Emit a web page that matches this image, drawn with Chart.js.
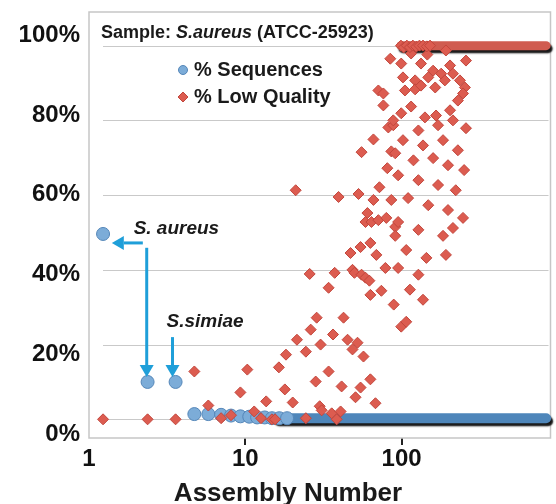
<!DOCTYPE html>
<html><head><meta charset="utf-8">
<script src="https://cdn.jsdelivr.net/npm/chart.js@4.4.1/dist/chart.umd.min.js"></script>
<style>html,body{margin:0;padding:0;background:#fff;}#wrap{width:556px;height:504px;}</style>
</head><body><div id="wrap"><canvas id="c" width="556" height="504"></canvas></div>
<script>
// ---- data ----
const seqX = [1.23, 2.37, 3.58, 4.72, 5.8, 7.0, 8.1, 9.3, 10.6, 11.9, 13.3, 14.8, 16.5, 18.5];
const seqY = [49.6, 10.0, 10.0, 1.4, 1.4, 1.2, 1.0, 0.8, 0.7, 0.5, 0.5, 0.3, 0.3, 0.3];
const lowX = [1.23, 2.37, 3.58, 4.72, 5.8, 7.0, 8.1, 9.3, 10.3, 11.4, 12.6, 13.6, 14.8, 15.5, 17.9, 20.1, 24.4, 29.9, 30.8, 35.7, 38.4, 40.7, 50.7, 68.0,
  16.4, 18.2, 21.4, 24.4, 26.2, 30.3, 36.4, 45.1, 48.5, 52.2, 57.0, 34.1, 28.2, 41.3, 54.6, 63.1,
  21.0, 39.5, 53.0, 66.0, 55.4, 82.2, 88.4, 85.9, 91.0, 81.0, 72.1, 66.0, 85.9, 60.4, 58.7, 64.1, 71.0, 79.8, 91.0, 91.0, 63.1, 54.6, 47.1, 68.9, 78.7, 25.8, 37.3, 48.5, 49.9, 55.4, 58.7, 62.2, 34.1, 74.2, 63.1, 28.6, 42.5,
  84.6, 99.4, 115, 133, 146, 192, 258, 204, 159, 179, 148, 122, 102, 71.0, 76.4, 76.4, 105, 122, 133, 164, 189, 213, 236, 254, 247, 229, 204, 166, 141, 115, 99.4, 88.4,
  128, 171, 213, 258, 102, 137, 184, 229, 119, 159, 198, 251, 95, 128, 171, 222, 110, 148, 198, 247, 95, 128, 184, 213, 107, 144, 192, 95, 128, 113, 137, 89, 99.4, 107,
  99, 103, 108, 113, 118, 124, 130, 137, 145, 152];
const lowY = [0, 0, 0, 12.8, 3.7, 0.3, 1.1, 7.2, 13.3, 2.1, 0.3, 4.8, 0, 0, 8, 4.5, 0.3, 3.5, 2.4, 1.6, 0, 2.1, 5.9, 4.3,
  13.9, 17.3, 21.3, 18.1, 24, 20, 22.7, 21.3, 18.7, 20.5, 16.8, 12.8, 10.1, 8.8, 8.5, 10.7,
  61.3, 59.5, 60.3, 74.9, 71.5, 78.1, 78.7, 71.7, 71.2, 67.2, 62.1, 58.7, 58.7, 55.2, 52.8, 52.8, 53.3, 53.9, 51.5, 49.1, 47.2, 46.1, 44.5, 44.0, 40.5, 38.9, 39.2, 40.0, 39.2, 38.7, 37.9, 37.1, 35.2, 34.4, 33.3, 27.2, 27.2,
  96.5, 95.2, 97.9, 95.2, 97.6, 98.7, 96, 94.7, 93.3, 92.5, 91.5, 90.7, 91.5, 88, 87.2, 84, 88, 88.3, 89.3, 88.8, 90.7, 92.5, 90.7, 88.8, 87.2, 85.3, 82.7, 81.3, 80.8, 83.7, 81.9, 80,
  77.3, 78.7, 80, 77.9, 74.7, 73.3, 74.7, 72, 69.3, 69.9, 68, 66.7, 65.3, 64, 62.7, 61.3, 59.2, 57.3, 56, 53.9, 52.8, 50.7, 49.1, 51.2, 45.3, 43.2, 44, 40.5, 38.7, 34.7, 32, 30.7, 24.8, 26.1,
  100, 99.5, 100, 99.6, 100, 99.7, 100, 100, 99.8, 100];
// dense runs that merge into solid bands
const seqBandX = [16, 840];
const seqBandY = [0.3, 0.3];
const lowBandX = [99, 840];
const lowBandY = [100, 100];
const xTicks = [1, 10, 100];
const yTicks = [0, 20, 40, 60, 80, 100];
const seriesNames = ['% Sequences', '% Low Quality'];
const sampleTitle = ['Sample: ', 'S.aureus', ' (ATCC-25923)'];
const xTitle = 'Assembly Number';
const notes = [{text: 'S. aureus', x: 1.93, y: 50.9}, {text: 'S.simiae', x: 3.13, y: 26.0}];
const arrows = [
  [2.21, 47.2, 1.40, 47.2],
  [2.34, 45.9, 2.34, 11.3],
  [3.42, 22.0, 3.42, 11.3]
];

const pts = (xs, ys) => xs.map((x, i) => ({x: x, y: ys[i]}));
const RED = 'rgb(220,92,80)', RED_E = 'rgb(194,70,60)';
const BLUE = 'rgb(124,172,216)', BLUE_E = 'rgb(84,134,184)';
const FONT = '"Liberation Sans", Arial, sans-serif';

const shadowPlugin = {
  id: 'bandShadow',
  beforeDatasetDraw(chart, args) {
    const ds = chart.data.datasets[args.index];
    if (ds.isBand) {
      const c = chart.ctx; c.save();
      c.shadowColor = 'rgba(0,0,0,0.9)'; c.shadowOffsetX = 2; c.shadowOffsetY = 3; c.shadowBlur = 1.5;
    }
  },
  afterDatasetDraw(chart, args) {
    const ds = chart.data.datasets[args.index];
    if (ds.isBand) chart.ctx.restore();
  }
};

// frame + horizontal gridlines (gridlines start slightly inside the frame)
const framePlugin = {
  id: 'frame',
  beforeDatasetsDraw(chart) {
    const a = chart.chartArea, c = chart.ctx, ys = chart.scales.y;
    c.save(); c.strokeStyle = '#c6c6c6'; c.lineWidth = 1.5;
    c.strokeRect(a.left, a.top, a.right - a.left + 2, a.bottom - a.top);
    c.strokeStyle = '#c9c9c9'; c.lineWidth = 1.2;
    ys.ticks.forEach(t => {
      const py = Math.round(ys.getPixelForValue(t.value)) + 0.5;
      c.beginPath(); c.moveTo(a.left + 14, py); c.lineTo(a.right, py); c.stroke();
    });
    c.restore();
  }
};

function arrow(c, x1, y1, x2, y2) {
  const ang = Math.atan2(y2 - y1, x2 - x1), L = 12, W = 7;
  const bx = x2 - L * Math.cos(ang), by = y2 - L * Math.sin(ang);
  c.beginPath(); c.moveTo(x1, y1); c.lineTo(bx, by); c.stroke();
  c.beginPath(); c.moveTo(x2, y2);
  c.lineTo(bx + W * Math.sin(ang), by - W * Math.cos(ang));
  c.lineTo(bx - W * Math.sin(ang), by + W * Math.cos(ang));
  c.closePath(); c.fill();
}

const notesPlugin = {
  id: 'notes',
  afterDatasetsDraw(chart) {
    const c = chart.ctx, xs = chart.scales.x, ys = chart.scales.y, a = chart.chartArea;
    c.save();
    c.strokeStyle = '#1f9fd9'; c.fillStyle = '#1f9fd9'; c.lineWidth = 3;
    arrows.forEach(r => arrow(c, xs.getPixelForValue(r[0]), ys.getPixelForValue(r[1]), xs.getPixelForValue(r[2]), ys.getPixelForValue(r[3])));
    c.fillStyle = '#1a1a1a'; c.textBaseline = 'middle'; c.textAlign = 'left';
    c.font = 'italic bold 19px ' + FONT;
    notes.forEach(n => c.fillText(n.text, xs.getPixelForValue(n.x), ys.getPixelForValue(n.y)));
    let tx = a.left + 12; const ty = a.top + 21;
    sampleTitle.forEach((t, i) => {
      c.font = (i === 1 ? 'italic ' : '') + 'bold 18px ' + FONT;
      c.fillText(t, tx, ty); tx += c.measureText(t).width;
    });
    c.font = 'bold 20px ' + FONT;
    const lx = a.left + 94, ly = [a.top + 58, a.top + 85];
    c.fillStyle = BLUE; c.strokeStyle = BLUE_E; c.lineWidth = 1;
    c.beginPath(); c.arc(lx, ly[0], 4.5, 0, Math.PI * 2); c.fill(); c.stroke();
    c.fillStyle = RED; c.strokeStyle = RED_E;
    c.beginPath(); c.moveTo(lx, ly[1] - 5); c.lineTo(lx + 5, ly[1]); c.lineTo(lx, ly[1] + 5); c.lineTo(lx - 5, ly[1]); c.closePath(); c.fill(); c.stroke();
    c.fillStyle = '#1a1a1a';
    seriesNames.forEach((s, i) => c.fillText(s, lx + 11, ly[i]));
    c.font = 'bold 26px ' + FONT; c.textAlign = 'center'; c.textBaseline = 'alphabetic';
    c.fillText(xTitle, 288, 501);
    c.restore();
  }
};

const noPad = s => { s.paddingTop = 0; s.paddingBottom = 0; s.paddingLeft = 0; s.paddingRight = 0; };

new Chart(document.getElementById('c'), {
  type: 'scatter',
  data: {
    datasets: [
      {label: seriesNames[1], data: pts(lowX, lowY), yAxisID: 'y', xAxisID: 'x', pointStyle: 'rectRot', pointRadius: 5.5, pointHoverRadius: 5.5,
       backgroundColor: RED, borderColor: RED_E, borderWidth: 1, order: 0},
      {label: seriesNames[0], data: pts(seqX, seqY), yAxisID: 'y', xAxisID: 'x', pointStyle: 'circle', pointRadius: 6.5, pointHoverRadius: 6.5,
       backgroundColor: BLUE, borderColor: BLUE_E, borderWidth: 1, order: 1},
      {type: 'line', isBand: true, data: pts(lowBandX, lowBandY), yAxisID: 'y', xAxisID: 'x', borderColor: 'rgb(208,92,80)', borderWidth: 9,
       borderCapStyle: 'round', pointRadius: 0, fill: false, clip: false, order: 2},
      {type: 'line', isBand: true, data: pts(seqBandX, seqBandY), yAxisID: 'y', xAxisID: 'x', borderColor: 'rgb(78,134,186)', borderWidth: 10,
       borderCapStyle: 'round', pointRadius: 0, fill: false, clip: false, order: 3}
    ]
  },
  options: {
    responsive: false, animation: false, devicePixelRatio: 1,
    layout: {padding: {top: 12, right: 5, left: 0, bottom: 0}},
    plugins: {legend: {display: false}, tooltip: {enabled: false}, title: {display: false}},
    scales: {
      x: {
        type: 'logarithmic', min: 1, max: 870, position: 'bottom',
        afterBuildTicks: s => { s.ticks = xTicks.map(v => ({value: v})); },
        ticks: {callback: v => String(v), font: {family: FONT, size: 24, weight: 'bold'}, color: '#111', padding: 0, maxRotation: 0},
        grid: {drawOnChartArea: false, drawTicks: true, tickLength: 7, lineWidth: 2,
               color: ctx => (ctx.tick && ctx.tick.value === 1) ? 'rgba(0,0,0,0)' : '#222'},
        border: {display: false},
        afterFit: s => { s.height = 66; noPad(s); }
      },
      y: {
        type: 'linear', position: 'left', min: -5, max: 109,
        afterBuildTicks: s => { s.ticks = yTicks.map(v => ({value: v})); },
        ticks: {display: false},
        grid: {display: false, drawTicks: false}, border: {display: false},
        afterFit: s => { s.width = 0; noPad(s); }
      },
      y2: {
        type: 'linear', position: 'left', min: -1, max: 105.8,
        afterBuildTicks: s => { s.ticks = yTicks.map(v => ({value: v})); },
        ticks: {callback: v => v + '%', font: {family: FONT, size: 24, weight: 'bold'}, color: '#111', padding: 9},
        grid: {display: false, drawTicks: false}, border: {display: false},
        afterFit: s => { s.width = 89; noPad(s); }
      }
    }
  },
  plugins: [shadowPlugin, framePlugin, notesPlugin]
});
</script></body></html>
